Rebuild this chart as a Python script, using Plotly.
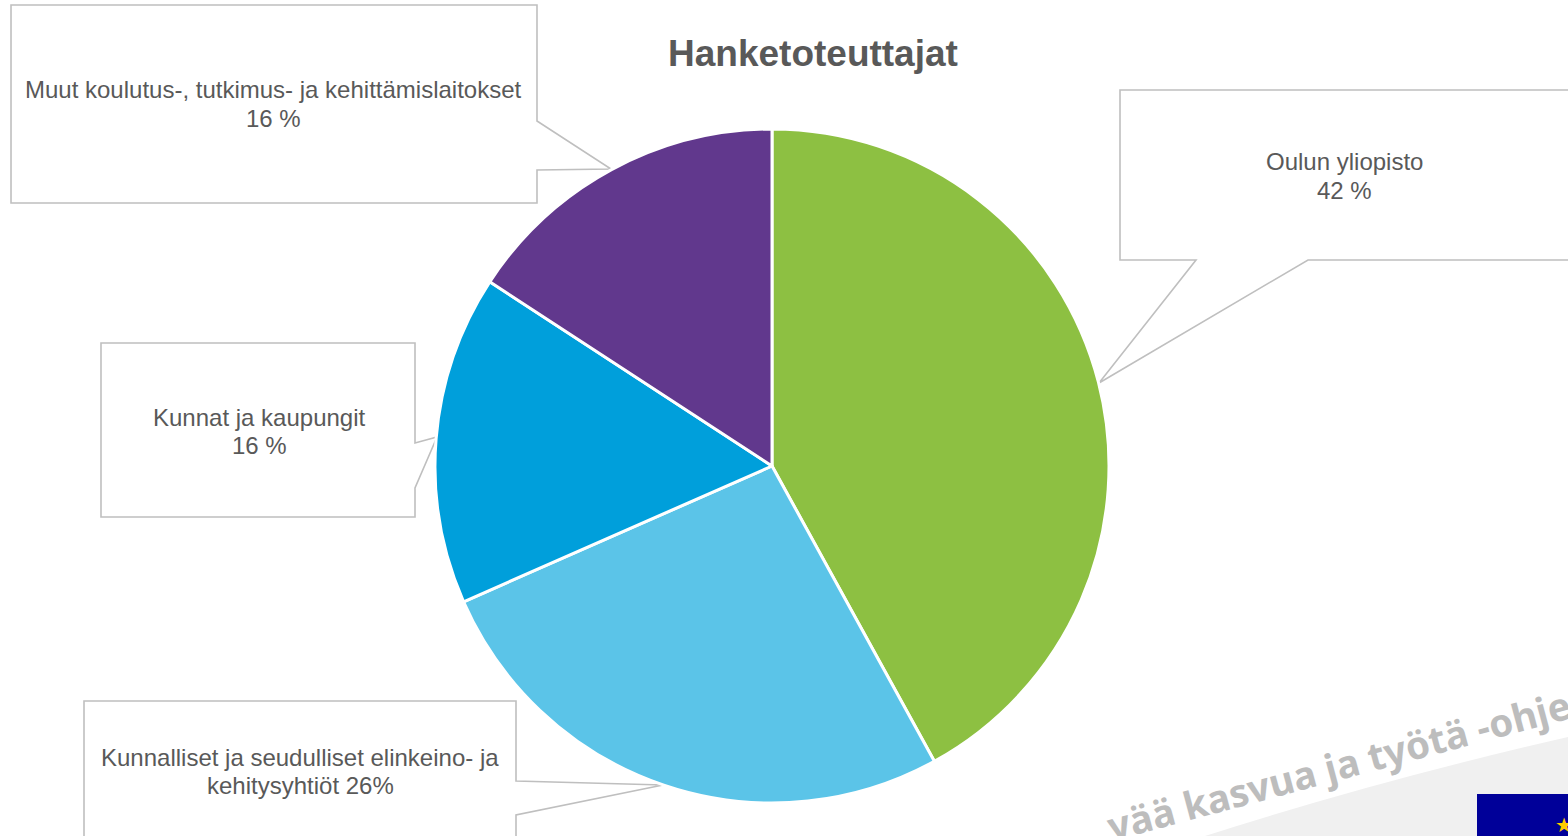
import plotly.graph_objects as go

W, H = 1568, 836
categories = ["Oulun yliopisto", "Kunnalliset ja seudulliset elinkeino- ja kehitysyhtiöt",
              "Kunnat ja kaupungit", "Muut koulutus-, tutkimus- ja kehittämislaitokset"]
values = [42, 26.4, 15.8, 15.8]
colors = ["#8DC042", "#5BC4E8", "#009FDB", "#61388D"]
label_lines = [
    ("Oulun yliopisto", 1344, 162), ("42 %", 1344, 190),
    ("Kunnalliset ja seudulliset elinkeino- ja", 300, 757), ("kehitysyhtiöt 26%", 300, 785),
    ("Kunnat ja kaupungit", 259, 417), ("16 %", 259, 445),
    ("Muut koulutus-, tutkimus- ja kehittämislaitokset", 273, 90), ("16 %", 273, 118),
]

callouts = [
    [(1120, 90), (1600, 90), (1600, 260), (1308, 260), (1099, 383), (1196, 260), (1120, 260)],
    [(84, 701), (516, 701), (516, 781), (663, 785), (516, 815), (516, 860), (84, 860)],
    [(101, 343), (415, 343), (415, 443), (437, 437), (415, 488), (415, 517), (101, 517)],
    [(11, 5), (537, 5), (537, 121), (611, 169), (537, 170), (537, 203), (11, 203)],
]


def px(x):
    return x / W


def py(y):
    return 1 - y / H


def path(points):
    return "M " + " L ".join(f"{px(x):.5f} {py(y):.5f}" for x, y in points) + " Z"


shapes = [dict(type="path", xref="paper", yref="paper", path=path(p),
               line=dict(color="#BFBFBF", width=1.6), fillcolor="white", layer="below") for p in callouts]

# corner decoration
swoosh = ("M " + f"{px(1205):.5f} {py(836):.5f} "
          + f"Q {px(1380):.5f} {py(780):.5f} {px(1568):.5f} {py(737):.5f} "
          + f"L {px(1568):.5f} {py(836):.5f} Z")
shapes.append(dict(type="path", xref="paper", yref="paper", path=swoosh,
                   line=dict(width=0), fillcolor="#F0F0F0", layer="below"))
shapes.append(dict(type="rect", xref="paper", yref="paper", x0=px(1477), x1=px(1568), y0=py(794), y1=py(836),
                   line=dict(width=0), fillcolor="#000099", layer="below"))

fig = go.Figure(go.Pie(
    labels=categories, values=values, sort=False, direction="clockwise", rotation=0,
    marker=dict(colors=colors, line=dict(color="white", width=3)),
    textinfo="none", hoverinfo="label+percent", showlegend=False,
    domain=dict(x=[px(435), px(1109)], y=[py(803), py(129)]),
))

ann = [dict(x=px(x), y=py(y), xref="paper", yref="paper", text=t, showarrow=False, xanchor="center", yanchor="middle",
            font=dict(family="Liberation Sans", size=24, color="#595959"))
       for t, x, y in label_lines]
ann.append(dict(x=px(812.5), y=py(53), xref="paper", yref="paper", text="<b>Hanketoteuttajat</b>", showarrow=False,
                xanchor="center", yanchor="middle",
                font=dict(family="Liberation Sans", size=37, color="#595959")))
ann.append(dict(x=px(1338), y=py(765), xref="paper", yref="paper", text="<b>vää kasvua ja työtä -ohje</b>", showarrow=False,
                xanchor="center", yanchor="middle", textangle=-15,
                font=dict(family="Noto Sans", size=38.5, color="#BDBDBD")))
ann.append(dict(x=px(1564), y=py(825), xref="paper", yref="paper", text="★", showarrow=False,
                xanchor="center", yanchor="middle",
                font=dict(family="DejaVu Sans", size=20, color="#FFCC00")))

fig.update_layout(width=W, height=H, margin=dict(l=0, r=0, t=0, b=0), paper_bgcolor="white",
                  shapes=shapes, annotations=ann)
fig.write_html("out.html", config=dict(displayModeBar=False),
               post_script="document.body.style.margin='0';document.documentElement.style.overflow='hidden';")
